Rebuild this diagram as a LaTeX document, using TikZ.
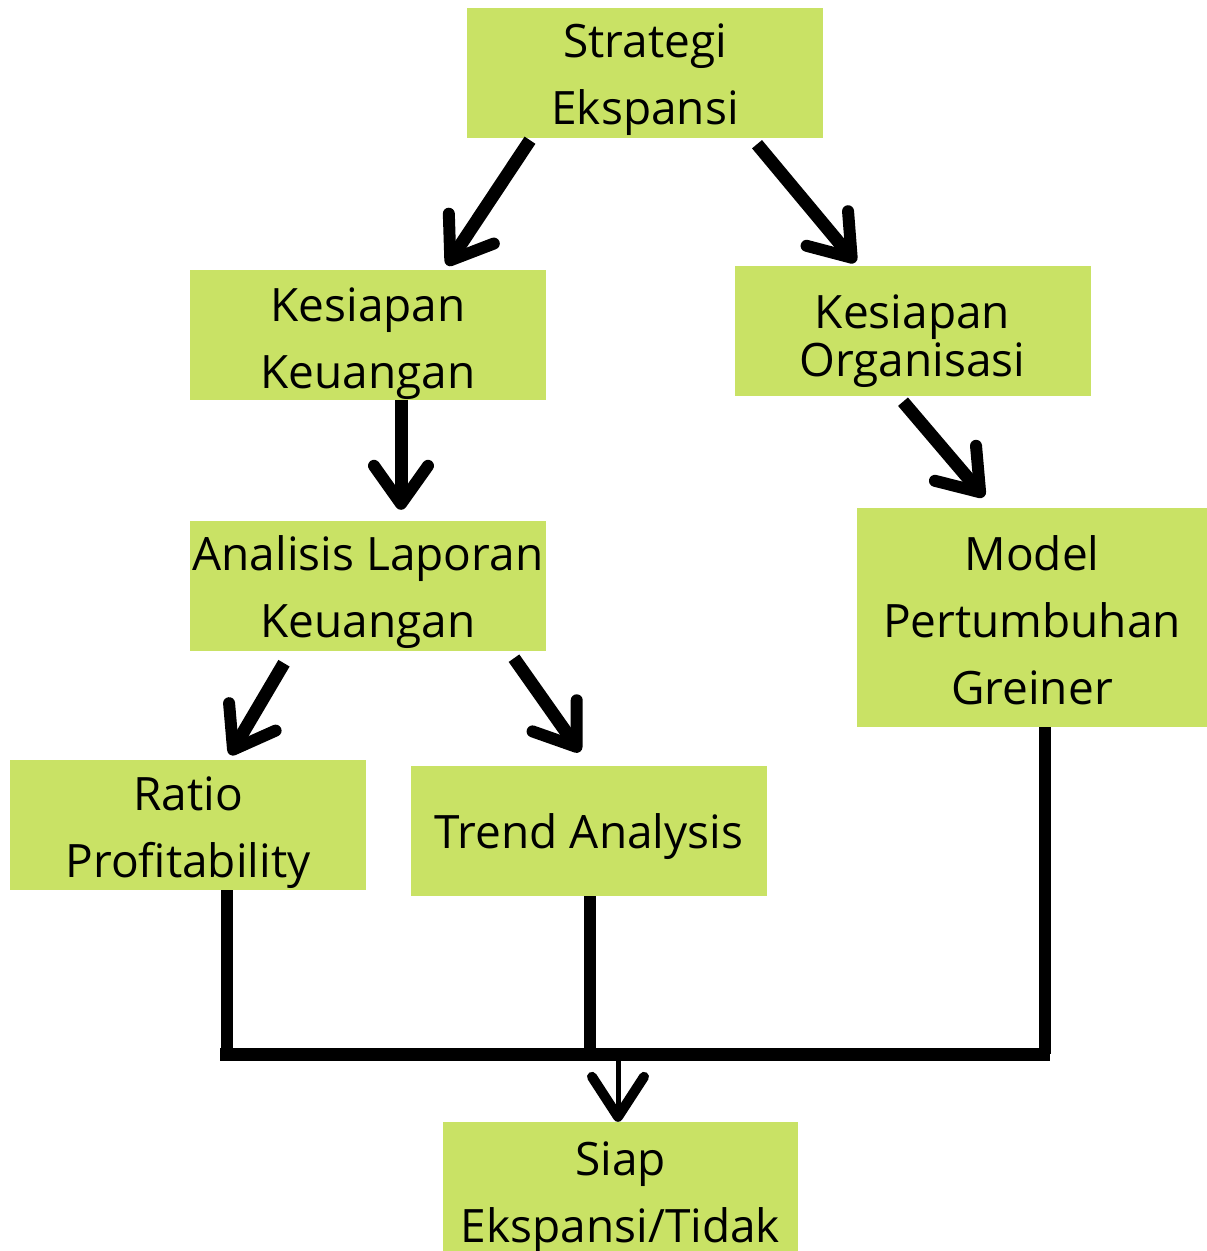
\documentclass[tikz,border=0pt]{standalone}
\usepackage{fontspec}
\setmainfont{Open Sans}
\usetikzlibrary{arrows.meta}
\definecolor{boxgreen}{RGB}{201,226,101}
\tikzset{
  box/.style={fill=boxgreen, inner sep=0pt, minimum width=356pt, minimum height=130pt},
  lab/.style={inner sep=0pt, align=center, font=\fontsize{46}{67}\selectfont},
  arr/.style={line width=13pt, -{Straight Barb[length=38pt,width=54pt,line width=12pt,round]}},
  bar/.style={line width=13pt},
}
\begin{document}
\begin{tikzpicture}[x=1pt,y=-1pt]
\useasboundingbox (0,0) rectangle (1207,1251);
\node[box] (se) at (645,73) {};
\node[box] (kk) at (368,334.5) {};
\node[box] (ko) at (912.5,330.5) {};
\node[box] (al) at (368,586) {};
\node[box, minimum width=350pt, minimum height=219pt] (mg) at (1032,617.5) {};
\node[box] (rp) at (188,825) {};
\node[box] (ta) at (589,831) {};
\node[box, minimum width=355pt, minimum height=129pt] (sp) at (620.5,1186.5) {};

\node[lab] (set) at ([yshift=-7pt]se.center) {Strategi\\Ekspansi};
\node[lab] (kkt) at ([yshift=-9pt]kk.center) {Kesiapan\\Keuangan};
\node[lab] (kot) at ([yshift=-11pt]ko.center) {Kesiapan\\[-19pt]Organisasi};
\node[lab] (alt) at ([yshift=-6pt]al.center) {Analisis Laporan\\Keuangan};
\node[lab] (mgt) at ([yshift=-3pt]mg.center) {Model\\Pertumbuhan\\Greiner};
\node[lab] (rpt) at ([yshift=-8pt]rp.center) {Ratio\\Profitability};
\node[lab] (tat) at ([yshift=-6pt]ta.center) {Trend Analysis};
\node[lab] (spt) at ([yshift=-11pt]sp.center) {Siap\\Ekspansi/Tidak};

\draw[arr] ([xshift=-115pt,yshift=-2pt]se.south) -- ([xshift=79pt,yshift=4pt]kk.north);
\draw[arr] ([xshift=112pt,yshift=-6pt]se.south) -- ([xshift=-57pt,yshift=3pt]ko.north);
\draw[arr] ([xshift=33pt]kk.south) -- ([xshift=33pt,yshift=11pt]al.north);
\draw[arr] ([xshift=-9.5pt,yshift=-6pt]ko.south) -- ([xshift=-48pt,yshift=11pt]mg.north);
\draw[arr] ([xshift=-84pt,yshift=-12pt]al.south) -- ([xshift=42pt,yshift=5pt]rp.north);
\draw[arr] ([xshift=146pt,yshift=-7pt]al.south) -- ([xshift=-9pt,yshift=14pt]ta.north);

\coordinate (jl) at (227,1054);
\coordinate (jm) at (590,1054);
\coordinate (jr) at (1045,1054);
\coordinate (hl) at (220,1054);
\coordinate (hr) at (1050,1054);
\coordinate (jo) at (618,1060);

\draw[line width=12pt] ([xshift=39pt]rp.south) -- (rp.south -| jl) |- (jl);
\draw[line width=12pt] (ta.south -| jm) -- (jm);
\draw[line width=12pt] (mg.south -| jr) -- (jr);
\draw[bar] (hl) -- (hr);
\draw[line width=5pt, -{Straight Barb[length=40pt,width=52pt,line width=10pt,round]}] (jo) -- (sp.north -| jo);
\end{tikzpicture}
\end{document}
